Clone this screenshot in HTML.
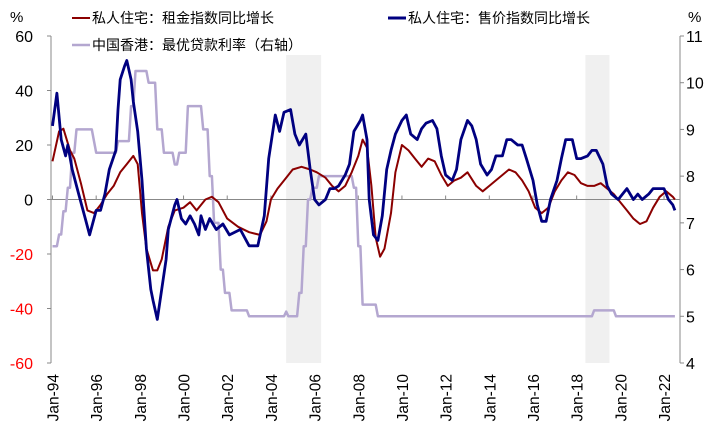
<!DOCTYPE html>
<html><head><meta charset="utf-8"><style>
body{margin:0;background:#fff;}
svg{display:block;font-family:"Liberation Sans","Noto Sans CJK SC",sans-serif;}
</style></head><body>
<svg id="chart" width="713" height="436"></svg>
<script>
const rentYears=[1994.0,1994.3,1994.5,1994.8,1995.0,1995.3,1995.6,1995.9,1996.2,1996.5,1996.8,1997.1,1997.4,1997.7,1997.9,1998.1,1998.3,1998.6,1998.8,1999.0,1999.3,1999.6,2000.0,2000.3,2000.6,2001.0,2001.3,2001.6,2002.0,2002.5,2003.0,2003.5,2003.8,2004.0,2004.3,2004.7,2005.0,2005.4,2005.8,2006.1,2006.5,2006.8,2007.1,2007.4,2007.7,2008.0,2008.2,2008.4,2008.6,2008.8,2009.0,2009.2,2009.5,2009.7,2010.0,2010.3,2010.6,2010.9,2011.2,2011.5,2011.8,2012.1,2012.4,2012.7,2013.0,2013.4,2013.7,2014.0,2014.3,2014.6,2014.9,2015.2,2015.5,2015.8,2016.1,2016.4,2016.7,2017.0,2017.3,2017.6,2017.9,2018.2,2018.5,2018.8,2019.1,2019.4,2019.7,2020.0,2020.3,2020.6,2020.9,2021.2,2021.5,2021.8,2022.1,2022.4,2022.5];
const rentValues=[14,25,26,18,15,6,-4,-5,-2,2,5,10,13,16,13,-5,-18,-26,-26,-22,-10,-4,-3,-1,-4,0,1,-1,-7,-10,-12,-13,-8,0,4,8,11,12,11,10,8,5,3,5,10,16,22,19,5,-14,-21,-18,-5,10,20,18,15,12,15,14,9,5,7,8,10,5,3,5,7,9,11,10,7,3,-3,-5,-3,3,7,10,9,6,5,5,6,4,2,-1,-4,-7,-9,-8,-3,1,3,1,0];
const priceYears=[1994.0,1994.2,1994.4,1994.6,1994.7,1994.9,1995.2,1995.5,1995.7,1996.0,1996.2,1996.4,1996.6,1996.9,1997.0,1997.1,1997.3,1997.4,1997.6,1997.7,1997.9,1998.1,1998.3,1998.5,1998.6,1998.8,1999.0,1999.2,1999.3,1999.6,1999.7,1999.9,2000.1,2000.3,2000.5,2000.7,2000.8,2001.0,2001.2,2001.5,2001.8,2002.1,2002.6,2003.0,2003.4,2003.7,2003.9,2004.2,2004.4,2004.6,2004.9,2005.1,2005.3,2005.6,2005.8,2006.0,2006.2,2006.5,2006.7,2006.9,2007.1,2007.4,2007.6,2007.8,2008.1,2008.2,2008.4,2008.5,2008.7,2008.9,2009.1,2009.3,2009.5,2009.7,2010.0,2010.2,2010.4,2010.7,2010.9,2011.1,2011.4,2011.6,2011.8,2012.0,2012.3,2012.5,2012.7,2013.0,2013.2,2013.4,2013.6,2013.9,2014.1,2014.3,2014.6,2014.8,2015.0,2015.3,2015.5,2015.7,2016.0,2016.2,2016.4,2016.6,2016.8,2017.1,2017.3,2017.5,2017.8,2018.0,2018.2,2018.5,2018.7,2018.9,2019.2,2019.4,2019.6,2019.9,2020.1,2020.3,2020.6,2020.8,2021.0,2021.3,2021.5,2021.7,2022.0,2022.2,2022.4,2022.5];
const priceValues=[27,39,22,16,20,11,2,-7,-13,-4,-4,2,11,18,33,44,49,51,44,36,25,7,-18,-33,-37,-44,-33,-22,-11,-2,0,-7,-9,-6,-9,-13,-6,-11,-7,-11,-9,-13,-11,-17,-17,-6,15,31,25,32,33,24,20,24,11,0,-2,0,4,4,5,9,13,25,29,31,22,0,-13,-15,-6,11,18,24,29,31,24,22,26,28,29,26,16,9,7,11,22,29,27,22,13,9,11,16,16,22,22,20,20,15,7,-2,-8,-8,0,7,15,22,22,15,15,16,18,18,13,5,2,0,2,4,0,2,0,2,4,4,4,0,-2,-4];
const primeYears=[1994.0,1994.3,1994.5,1994.7,1994.9,1995.1,1995.9,1996.0,1997.0,1997.6,1997.8,1998.4,1998.8,1999.1,1999.6,1999.8,2000.2,2000.9,2001.2,2001.4,2001.7,2001.9,2002.2,2003.0,2004.7,2004.8,2005.3,2005.5,2005.7,2005.9,2006.2,2007.8,2008.0,2008.2,2008.9,2018.8,2019.8,2022.5];
const primeValues=[6.5,6.75,7.25,7.75,8.5,9.0,8.75,8.5,8.75,9.5,10.25,10.0,9.0,8.5,8.25,8.5,9.5,9.0,8.0,7.0,6.0,5.5,5.125,5.0,5.1,5.0,5.5,6.5,7.5,7.75,8.0,7.75,6.5,5.25,5.0,5.125,5.0,5.0];
const leftTicks=[60,40,20,0,-20,-40,-60];
const rightTicks=[11,10,9,8,7,6,5,4];
const xTickLabels=['Jan-94','Jan-96','Jan-98','Jan-00','Jan-02','Jan-04','Jan-06','Jan-08','Jan-10','Jan-12','Jan-14','Jan-16','Jan-18','Jan-20','Jan-22'];
const xTickYears=[1994,1996,1998,2000,2002,2004,2006,2008,2010,2012,2014,2016,2018,2020,2022];
const shadeRanges=[[2004.7,2006.3],[2018.4,2019.5]];

const NS='http://www.w3.org/2000/svg';
const svg=document.getElementById('chart');
const X0=52.5,PXY=21.84,Y_TOP=36,Y_BOT=363,LX=51,RX=680;
const xs=y=>X0+(y-1994)*PXY;
const yl=v=>Y_TOP+(60-v)*(Y_BOT-Y_TOP)/120;
const yr=v=>Y_TOP+(11-v)*(Y_BOT-Y_TOP)/7;
function el(t,a,txt){const e=document.createElementNS(NS,t);for(const k in a)e.setAttribute(k,a[k]);if(txt!==undefined)e.textContent=txt;svg.appendChild(e);return e;}

shadeRanges.forEach(r=>{
 const e=el('rect',{x:xs(r[0]),y:55,width:xs(r[1])-xs(r[0]),height:Y_BOT-55,fill:'#f0f0f0'});
 
 
});
let a=el('line',{x1:LX,y1:Y_TOP,x2:LX,y2:Y_BOT,stroke:'#888','stroke-width':1});

a=el('line',{x1:RX,y1:Y_TOP,x2:RX,y2:Y_BOT,stroke:'#888','stroke-width':1});

a=el('line',{x1:LX,y1:yl(0),x2:RX,y2:yl(0),stroke:'#888','stroke-width':1});

leftTicks.forEach(v=>{
 el('line',{x1:LX-4,y1:yl(v),x2:LX,y2:yl(v),stroke:'#888'});
 const t=el('text',{x:33,y:yl(v)+6,'text-anchor':'end','font-size':16,fill:v<0?'#ff0000':'#000'},String(v));
 
});
rightTicks.forEach(v=>{
 el('line',{x1:RX,y1:yr(v),x2:RX+4,y2:yr(v),stroke:'#888'});
 const t=el('text',{x:686,y:yr(v)+6,'font-size':16,fill:'#000'},String(v));
 
});
xTickYears.forEach((yv,i)=>{
 el('line',{x1:xs(yv),y1:yl(0),x2:xs(yv),y2:yl(0)-4,stroke:'#888'});
 const x=xs(yv)+6;
 const t=el('text',{x:x,y:374,'text-anchor':'end','font-size':15.5,fill:'#000',transform:`rotate(-90 ${x} 374)`},xTickLabels[i]);
 
});
function path(xsArr,vals,fy,ramp){
 let d='';
 for(let i=0;i<xsArr.length;i++){
  const px=xs(xsArr[i]).toFixed(1),py=fy(vals[i]).toFixed(1);
  if(i===0){d+='M'+px+','+py;continue;}
  if(ramp){
   const hx=Math.max(xs(xsArr[i]-ramp),xs(xsArr[i-1]));
   d+='H'+hx.toFixed(1);
  }
  d+='L'+px+','+py;
 }
 return d;
}
let p=el('path',{d:path(primeYears,primeValues,yr,0.1),fill:'none',stroke:'#b4a7d0','stroke-width':2.5,'stroke-linejoin':'round'});

p=el('path',{d:path(rentYears,rentValues,yl,0),fill:'none',stroke:'#8b0000','stroke-width':2,'stroke-linejoin':'round'});

p=el('path',{d:path(priceYears,priceValues,yl,0),fill:'none',stroke:'#000080','stroke-width':2.8,'stroke-linejoin':'round'});

let u=el('text',{x:10,y:22,'font-size':15},'%');
u=el('text',{x:688,y:22,'font-size':15},'%');
function leg(x,y,color,w,label,name){
 const l=el('line',{x1:x,y1:y,x2:x+18,y2:y,stroke:color,'stroke-width':w});
 
 const t=el('text',{x:x+20,y:y+5,'font-size':14,fill:'#000'},label);
 
}
leg(72,18,'#8b0000',2,'私人住宅：租金指数同比增长','legend-rent');
leg(388,18,'#000080',3,'私人住宅：售价指数同比增长','legend-price');
leg(72,45,'#b4a7d0',2.5,'中国香港：最优贷款利率（右轴）','legend-prime-rate');
</script>
</body></html>
